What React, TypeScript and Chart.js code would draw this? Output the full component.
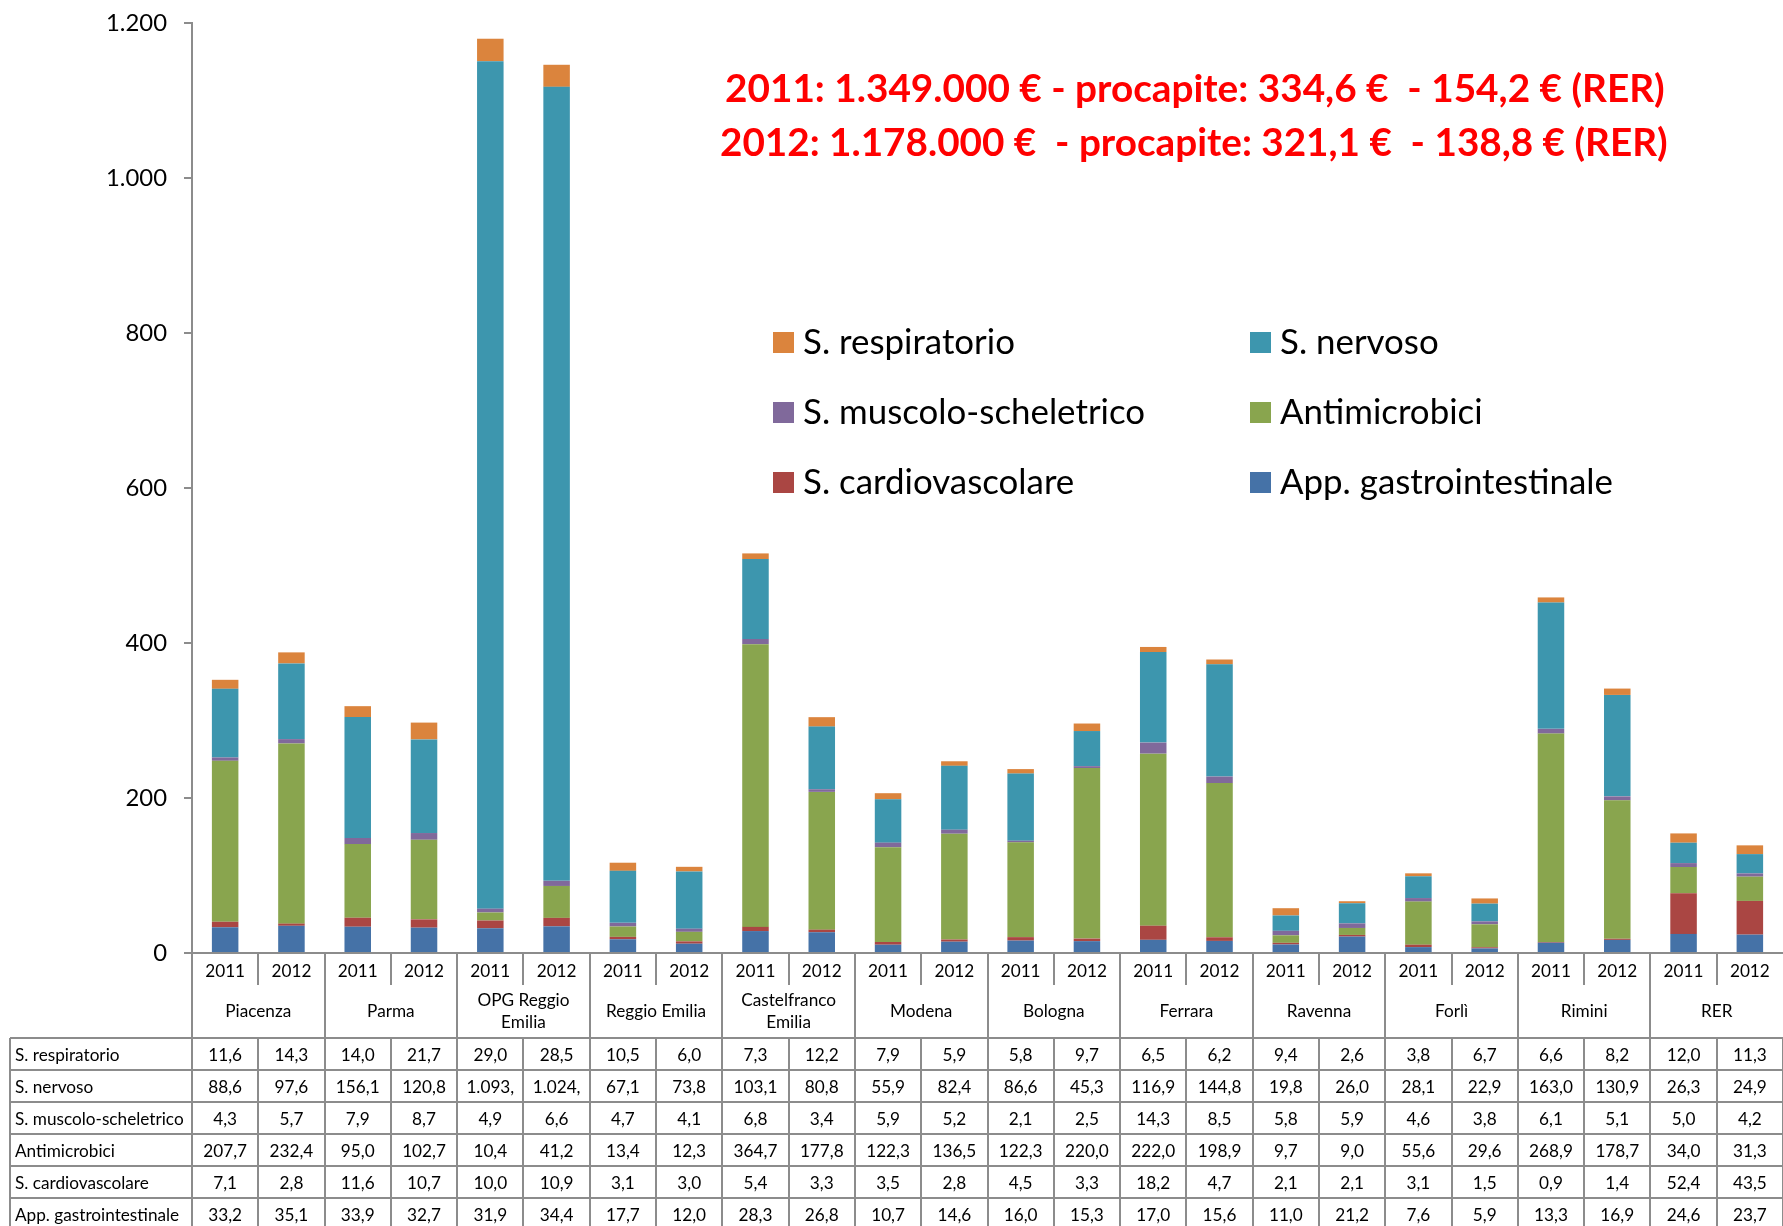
import React, { useEffect, useRef } from "react";
import { Chart, registerables } from "chart.js";

Chart.register(...registerables);

// ---------------- DATA ----------------
const GROUPS = [
  "Piacenza",
  "Parma",
  "OPG Reggio\nEmilia",
  "Reggio Emilia",
  "Castelfranco\nEmilia",
  "Modena",
  "Bologna",
  "Ferrara",
  "Ravenna",
  "Forlì",
  "Rimini",
  "RER",
];
const YEARS = ["2011", "2012"];
const CATEGORIES = GROUPS.flatMap(() => YEARS);

const APP_GASTRO = [33.2, 35.1, 33.9, 32.7, 31.9, 34.4, 17.7, 12.0, 28.3, 26.8, 10.7, 14.6, 16.0, 15.3, 17.0, 15.6, 11.0, 21.2, 7.6, 5.9, 13.3, 16.9, 24.6, 23.7];
const S_CARDIO = [7.1, 2.8, 11.6, 10.7, 10.0, 10.9, 3.1, 3.0, 5.4, 3.3, 3.5, 2.8, 4.5, 3.3, 18.2, 4.7, 2.1, 2.1, 3.1, 1.5, 0.9, 1.4, 52.4, 43.5];
const ANTIMICROBICI = [207.7, 232.4, 95.0, 102.7, 10.4, 41.2, 13.4, 12.3, 364.7, 177.8, 122.3, 136.5, 122.3, 220.0, 222.0, 198.9, 9.7, 9.0, 55.6, 29.6, 268.9, 178.7, 34.0, 31.3];
const S_MUSCOLO = [4.3, 5.7, 7.9, 8.7, 4.9, 6.6, 4.7, 4.1, 6.8, 3.4, 5.9, 5.2, 2.1, 2.5, 14.3, 8.5, 5.8, 5.9, 4.6, 3.8, 6.1, 5.1, 5.0, 4.2];
const S_NERVOSO = [88.6, 97.6, 156.1, 120.8, 1093.5, 1024.5, 67.1, 73.8, 103.1, 80.8, 55.9, 82.4, 86.6, 45.3, 116.9, 144.8, 19.8, 26.0, 28.1, 22.9, 163.0, 130.9, 26.3, 24.9];
const S_RESPIRATORIO = [11.6, 14.3, 14.0, 21.7, 29.0, 28.5, 10.5, 6.0, 7.3, 12.2, 7.9, 5.9, 5.8, 9.7, 6.5, 6.2, 9.4, 2.6, 3.8, 6.7, 6.6, 8.2, 12.0, 11.3];

const SERIES_LABELS = [
  "App. gastrointestinale",
  "S. cardiovascolare",
  "Antimicrobici",
  "S. muscolo-scheletrico",
  "S. nervoso",
  "S. respiratorio",
];
const SERIES_VALUES = [APP_GASTRO, S_CARDIO, ANTIMICROBICI, S_MUSCOLO, S_NERVOSO, S_RESPIRATORIO];
const SERIES_COLORS = ["#4572A7", "#AA4643", "#89A54E", "#80699B", "#3D96AE", "#DB843D"];

// legend layout order (row-major, two columns)
const LEGEND_ORDER = [5, 4, 3, 2, 1, 0];
// table rows order (top to bottom)
const TABLE_ORDER = [5, 4, 3, 2, 1, 0];

const Y_MIN = 0;
const Y_MAX = 1200;
const Y_STEP = 200;

const TITLE_LINES = [
  "2011: 1.349.000 € - procapite: 334,6 €  - 154,2 € (RER)",
  "2012: 1.178.000 €  - procapite: 321,1 €  - 138,8 € (RER)",
];

// ---------------- STYLE ----------------
const W = 1783;
const H = 1226;
const FONT = "Lato, 'Open Sans', 'DejaVu Sans', sans-serif";
const LINE = "#8C8C8C";

function groupInt(s: string) {
  return s.replace(/\B(?=(\d{3})+(?!\d))/g, ".");
}
function fmtInt(v: number) {
  return groupInt(Math.round(v).toString());
}
function fmt1(v: number) {
  const [i, d] = v.toFixed(1).split(".");
  return groupInt(i) + "," + d;
}

function fitSize(text: string, target: number, weight: string) {
  const c = document.createElement("canvas").getContext("2d")!;
  c.font = `${weight} 100px ${FONT}`;
  const w = c.measureText(text).width;
  return (100 * target) / w;
}

export default function App() {
  const ref = useRef<HTMLCanvasElement | null>(null);

  useEffect(() => {
    const canvas = ref.current!;
    const yTickSize = fitSize("1.200", 61, "normal");
    const tableSize = fitSize("Piacenza", 66, "normal");
    const legendSize = fitSize("App. gastrointestinale", 333, "normal");
    const title1Size = fitSize(TITLE_LINES[0], 940, "bold");
    const title2Size = fitSize(TITLE_LINES[1], 948, "bold");

    const overlay = {
      id: "overlay",
      afterDraw(chart: any) {
        const { ctx, chartArea } = chart;
        const xs = chart.scales.x;
        const n = CATEGORIES.length;
        const cw = xs.getPixelForValue(1) - xs.getPixelForValue(0);
        const leftOf = (i: number) => xs.getPixelForValue(0) - cw / 2 + i * cw;
        const axisY = chartArea.bottom;
        const yearBottom = axisY + 32;
        const tableTop = axisY + 85;
        const rowH = 32;
        const tableLeft = 10;

        ctx.save();
        // ---- title ----
        ctx.fillStyle = "#FF0000";
        ctx.textAlign = "left";
        ctx.textBaseline = "alphabetic";
        ctx.font = `bold ${title1Size}px ${FONT}`;
        ctx.fillText(TITLE_LINES[0], 725, 102);
        ctx.font = `bold ${title2Size}px ${FONT}`;
        ctx.fillText(TITLE_LINES[1], 720, 156);

        // ---- legend ----
        ctx.font = `normal ${legendSize}px ${FONT}`;
        ctx.textBaseline = "middle";
        LEGEND_ORDER.forEach((si, k) => {
          const col = k % 2;
          const row = Math.floor(k / 2);
          const x = col === 0 ? 773 : 1250;
          const y = 332 + row * 70;
          ctx.fillStyle = SERIES_COLORS[si];
          ctx.fillRect(x, y, 21, 21);
          ctx.fillStyle = "#000";
          ctx.fillText(SERIES_LABELS[si], x + 30, y + 11);
        });

        // ---- table lines ----
        ctx.strokeStyle = LINE;
        ctx.lineWidth = 2;
        const line = (x1: number, y1: number, x2: number, y2: number) => {
          ctx.beginPath();
          ctx.moveTo(x1, y1);
          ctx.lineTo(x2, y2);
          ctx.stroke();
        };
        for (let i = 1; i < n; i++) {
          const x = Math.round(leftOf(i));
          line(x, axisY, x, i % 2 === 0 ? tableTop : yearBottom);
        }
        line(Math.round(chartArea.left), axisY, Math.round(chartArea.left), tableTop);
        const rows = TABLE_ORDER.length;
        const tableBottom = tableTop + rows * rowH;
        for (let r = 0; r <= rows; r++) {
          const y = Math.round(tableTop + r * rowH);
          line(tableLeft, y, chartArea.right, y);
        }
        line(tableLeft, tableTop, tableLeft, tableBottom);
        for (let i = 0; i <= n; i++) {
          const x = Math.round(leftOf(i));
          line(x, tableTop, x, tableBottom);
        }

        // ---- group labels ----
        ctx.fillStyle = "#000";
        ctx.font = `normal ${tableSize}px ${FONT}`;
        ctx.textAlign = "center";
        ctx.textBaseline = "middle";
        GROUPS.forEach((g, gi) => {
          const cx = leftOf(gi * 2 + 1);
          const parts = g.split("\n");
          const mid = (yearBottom + tableTop) / 2;
          parts.forEach((p, pi) => {
            const y = mid + (pi - (parts.length - 1) / 2) * 22;
            ctx.fillText(p, cx, y);
          });
        });

        // ---- rows ----
        TABLE_ORDER.forEach((si, r) => {
          const cy = tableTop + r * rowH + rowH / 2 + 1;
          ctx.textAlign = "left";
          ctx.fillText(SERIES_LABELS[si], tableLeft + 5, cy);
          ctx.textAlign = "center";
          SERIES_VALUES[si].forEach((v, i) => {
            let s = fmt1(v);
            while (ctx.measureText(s).width > cw * 0.78 && s.length > 1) s = s.slice(0, -1);
            ctx.fillText(s, xs.getPixelForValue(i), cy);
          });
        });
        ctx.restore();
      },
    };

    const chart = new Chart(canvas, {
      type: "bar",
      data: {
        labels: CATEGORIES,
        datasets: SERIES_LABELS.map((label, i) => ({
          label,
          data: SERIES_VALUES[i],
          backgroundColor: SERIES_COLORS[i],
          borderWidth: 0,
          barPercentage: 0.4,
          categoryPercentage: 1.0,
        })),
      },
      options: {
        responsive: false,
        animation: false,
        layout: { padding: { top: 23, left: 0, right: 0, bottom: 0 } },
        plugins: {
          legend: { display: false },
          tooltip: { enabled: false },
          title: { display: false },
        },
        scales: {
          x: {
            stacked: true,
            offset: true,
            grid: { display: true, drawOnChartArea: false, drawTicks: false },
            border: { display: true, color: LINE, width: 2 },
            ticks: {
              color: "#000",
              font: { family: FONT, size: tableSize },
              padding: 8,
              maxRotation: 0,
              autoSkip: false,
            },
            afterFit: (s: any) => {
              s.height = H - 953;
              s.paddingLeft = 0;
              s.paddingRight = 0;
            },
          },
          y: {
            stacked: true,
            min: Y_MIN,
            max: Y_MAX,
            grid: { display: true, drawOnChartArea: false, drawTicks: true, tickLength: 8, color: LINE, lineWidth: 2 },
            border: { display: true, color: LINE, width: 2 },
            ticks: {
              stepSize: Y_STEP,
              color: "#000",
              font: { family: FONT, size: yTickSize },
              padding: 17,
              callback: (v: any) => fmtInt(Number(v)),
            },
            afterFit: (s: any) => {
              s.width = 192;
              s.paddingTop = 0;
              s.paddingBottom = 0;
            },
          },
        },
      },
      plugins: [overlay],
    });

    return () => chart.destroy();
  }, []);

  return (
    <div style={{ position: "fixed", left: 0, top: 0, width: W, height: H, background: "#fff" }}>
      <canvas ref={ref} width={W} height={H} style={{ display: "block", width: W, height: H }} />
    </div>
  );
}
